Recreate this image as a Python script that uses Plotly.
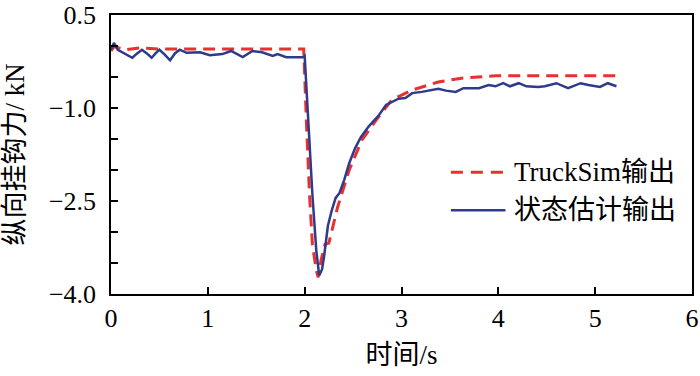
import plotly.graph_objects as go

# TruckSim output (red dashed)
truck_t = [0.0, 0.03, 0.08, 0.15, 0.3, 0.5, 0.8, 1.2, 1.6, 1.99, 2.02, 2.05, 2.08, 2.12, 2.14, 2.17, 2.21, 2.25, 2.34, 2.46, 2.59, 2.74, 2.90, 3.11, 3.38, 3.62, 3.97, 4.5, 5.0, 5.22]
truck_v = [-0.08, -0.01, -0.03, -0.06, -0.03, -0.05, -0.05, -0.05, -0.05, -0.05, -1.30, -2.40, -3.20, -3.62, -3.73, -3.45, -3.20, -3.18, -2.60, -2.00, -1.52, -1.19, -0.87, -0.71, -0.58, -0.52, -0.48, -0.48, -0.48, -0.48]

# State estimation output (blue solid)
est_t = [0.0, 0.03, 0.07, 0.14, 0.22, 0.27, 0.32, 0.37, 0.42, 0.46, 0.50, 0.55, 0.61, 0.66, 0.71, 0.78, 0.92, 1.02, 1.15, 1.24, 1.36, 1.46, 1.56, 1.67, 1.72, 1.81, 1.98, 2.0,
         2.04, 2.08, 2.12, 2.15, 2.18, 2.20, 2.24, 2.28, 2.32, 2.36, 2.41, 2.46, 2.52, 2.58, 2.66, 2.77, 2.84, 2.90, 2.97, 3.04, 3.11, 3.21,
         3.38, 3.46, 3.56, 3.64, 3.80, 3.90, 3.97, 4.05, 4.12, 4.21, 4.29, 4.41, 4.48, 4.60, 4.72, 4.85, 4.93, 5.05, 5.13, 5.22]
est_v = [-0.06, 0.05, -0.06, -0.12, -0.19, -0.12, -0.06, -0.12, -0.19, -0.12, -0.06, -0.13, -0.23, -0.12, -0.06, -0.11, -0.10, -0.15, -0.13, -0.08, -0.18, -0.08, -0.10, -0.16, -0.13, -0.18, -0.18, -0.16,
         -1.30, -2.40, -3.30, -3.70, -3.60, -3.40, -2.90, -2.65, -2.45, -2.37, -2.15, -1.89, -1.65, -1.47, -1.30, -1.11, -0.95, -0.90, -0.85, -0.84, -0.76, -0.74,
         -0.69, -0.72, -0.74, -0.68, -0.68, -0.63, -0.65, -0.60, -0.65, -0.60, -0.65, -0.66, -0.65, -0.60, -0.68, -0.60, -0.63, -0.66, -0.60, -0.65]

x_ticks = [0, 1, 2, 3, 4, 5, 6]
y_ticks = [0.5, -1.0, -2.5, -4.0]
y_tick_text = ["0.5", "\u22121.0", "\u22122.5", "\u22124.0"]
legend_names = ["TruckSim输出", "状态估计输出"]

RED = "#E8312F"
BLUE = "#2F3A8A"
FONT = "Liberation Serif, Times New Roman, Noto Sans CJK SC, serif"
FS = 26

fig = go.Figure()
fig.add_trace(go.Scatter(x=truck_t, y=truck_v, mode="lines", name=legend_names[0],
                         line=dict(color=RED, width=3, dash="12px,7px"), showlegend=False))
fig.add_trace(go.Scatter(x=est_t, y=est_v, mode="lines", name=legend_names[1],
                         line=dict(color=BLUE, width=2.5), showlegend=False))

# manual legend (longer line samples like the reference)
rows = [(0.436, RED, "12px,8px", 3), (0.300, BLUE, "solid", 2.5)]
for (yy, col, dsh, w), name in zip(rows, legend_names):
    fig.add_shape(type="line", xref="paper", yref="paper", x0=0.585, x1=0.679, y0=yy, y1=yy,
                  line=dict(color=col, width=w, dash=dsh))
    fig.add_annotation(xref="paper", yref="paper", x=0.691, y=yy, text=name, showarrow=False,
                       xanchor="left", yanchor="middle", font=dict(family=FONT, size=27, color="black"))

fig.update_layout(
    width=700, height=376,
    margin=dict(l=111, r=8, t=15, b=82),
    paper_bgcolor="white", plot_bgcolor="white",
    font=dict(family=FONT, size=FS, color="black"),
    showlegend=False,
)
fig.update_xaxes(range=[0, 6], tickvals=x_ticks, ticktext=[str(v) for v in x_ticks],
                 ticks="inside", ticklen=7, tickwidth=1.5, tickcolor="black",
                 showline=True, linecolor="black", linewidth=1.5, mirror=True,
                 showgrid=False, zeroline=False, automargin=False,
                 title=dict(text="时间/s", standoff=13, font=dict(family=FONT, size=27)))
fig.update_yaxes(range=[-4.0, 0.5], tickvals=y_ticks, ticktext=y_tick_text,
                 ticks="inside", ticklen=7, tickwidth=1.5, tickcolor="black",
                 ticklabelstandoff=8,
                 minor=dict(dtick=0.5, tick0=0, ticks="inside", ticklen=7, tickwidth=1.5, tickcolor="black"),
                 showline=True, linecolor="black", linewidth=1.5, mirror=True,
                 showgrid=False, zeroline=False, automargin=False,
                 title=dict(text="纵向挂钩力/ kN", standoff=16, font=dict(family=FONT, size=27)))

fig.write_html("out.html", config={"displayModeBar": False},
               post_script="document.body.style.margin='0';document.body.style.overflow='hidden';")
